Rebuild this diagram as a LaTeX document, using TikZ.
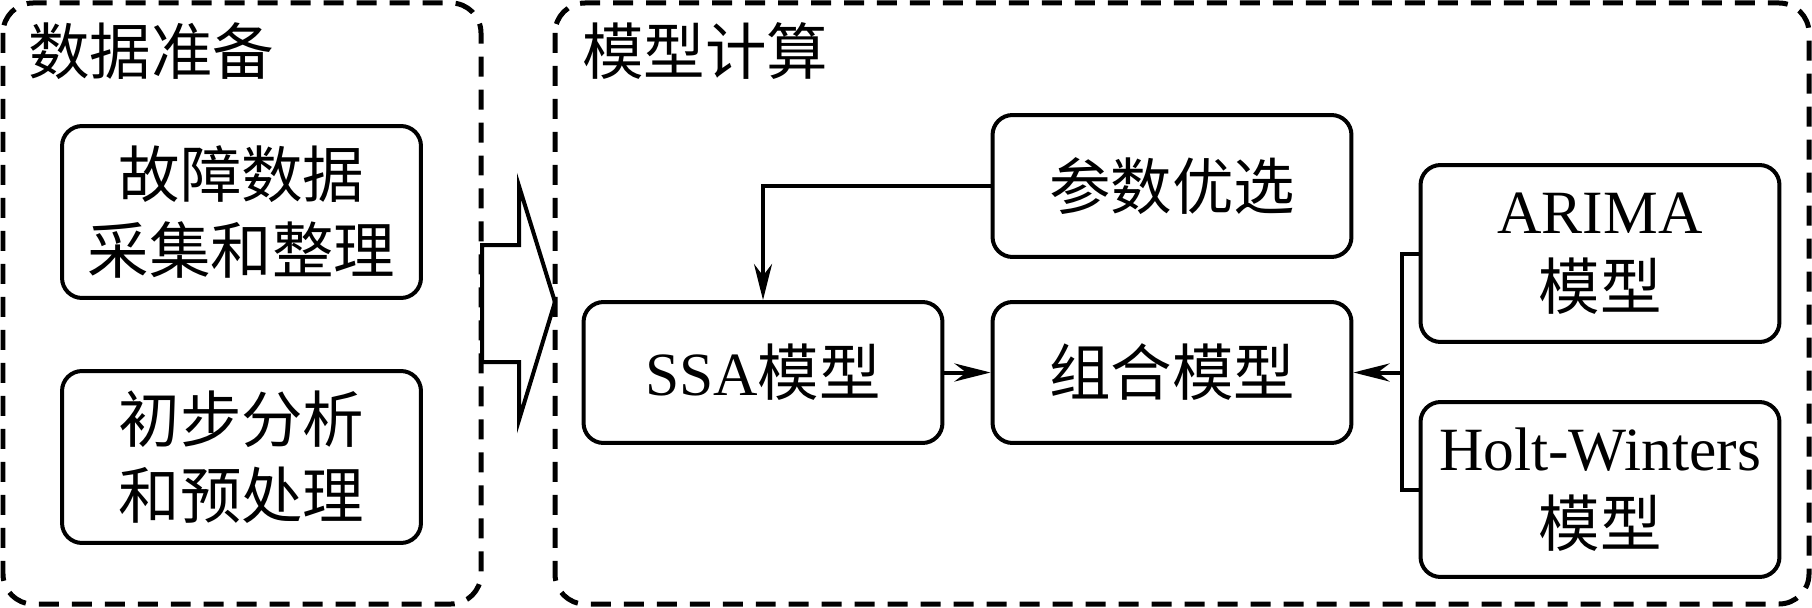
\documentclass[tikz,border=0pt]{standalone}
\usepackage{fontspec}
\setmainfont{Liberation Serif}
\newfontfamily\cjk{Noto Sans CJK SC}
\usetikzlibrary{arrows.meta}

\newcommand{\en}[1]{{\rmfamily #1}}

\tikzset{
  stage/.style={draw, line width=0.1cm, dash pattern=on 0.4cm off 0.26cm, rounded corners=0.6cm},
  stagetitle/.style={anchor=west, inner sep=0pt, font=\cjk\fontsize{35}{43}\selectfont},
  blk/.style={draw, line width=0.08cm, rounded corners=0.4cm, align=center, inner sep=0pt,
    minimum width=7.18cm, font=\cjk\fontsize{35}{43}\selectfont},
  link/.style={line width=0.08cm, -{Stealth[length=0.72cm, width=0.36cm]}},
}

\begin{document}
\begin{tikzpicture}[x=0.02cm, y=-0.02cm]
    \useasboundingbox (0,0) rectangle (1812,608);
    % stages
    \draw[stage] (3,3) rectangle (481,604);
    \draw[stage] (555,3) rectangle (1809,604);
    \node[stagetitle] (tprep) at (28,51) {数据准备};
    \node[stagetitle] (tcalc) at (582,51) {模型计算};
    % data preparation
    \node[blk, minimum height=3.44cm] (collect) at (241.5,212) {故障数据\\采集和整理};
    \node[blk, minimum height=3.44cm] (pre) at (241.5,457) {初步分析\\和预处理};
    % big arrow
    \draw[line width=0.08cm] (482,245) -- (519,245) -- (519,186) -- (555,302)
        -- (519,420) -- (519,362) -- (482,362) -- cycle;
    % model computation
    \node[blk, minimum height=2.82cm] (ssa) at (763,372.5) {\en{SSA}模型};
    \node[blk, minimum height=2.82cm] (comb) at (1172,372.5) {组合模型};
    \node[blk, minimum height=2.84cm] (param) at (1172,186) {参数优选};
    \node[blk, minimum height=3.54cm] (arima) at (1600,253.5) {\en{ARIMA}\\模型};
    \node[blk, minimum height=3.5cm] (hw) at (1600,489.5) {\en{Holt-Winters}\\模型};
    \coordinate (fork) at (1402,372.5);
    \draw[link] (param.west) -| (ssa.north);
    \draw[link] (ssa) -- (comb);
    \draw[line width=0.08cm] (arima.west) -| (fork) |- (hw.west);
    \draw[link] (fork) -- (comb.east);
\end{tikzpicture}
\end{document}
